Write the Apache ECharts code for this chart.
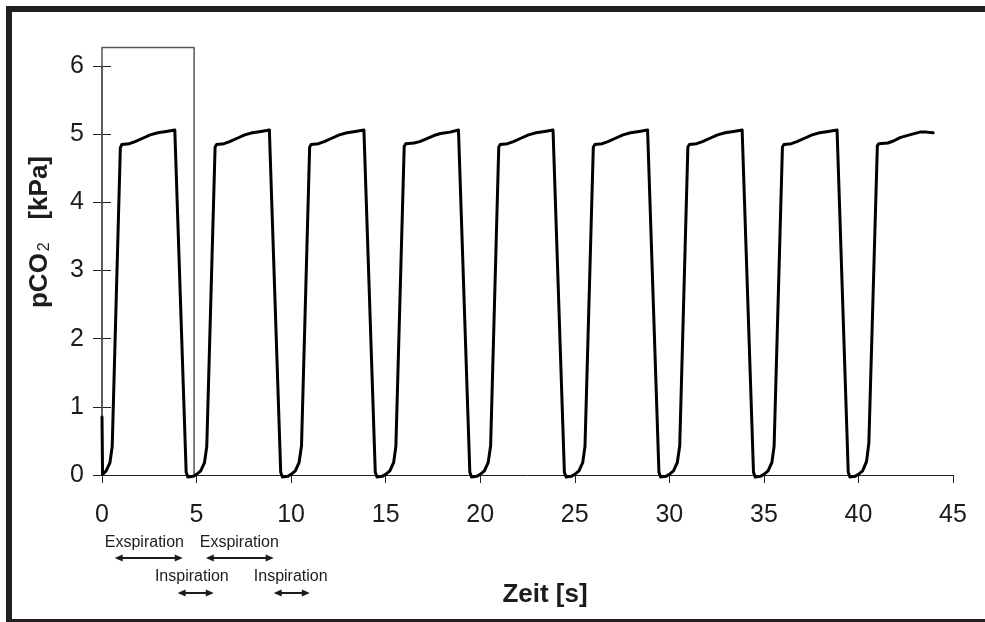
<!DOCTYPE html>
<html>
<head>
<meta charset="utf-8">
<script src="https://cdn.jsdelivr.net/npm/echarts@6/dist/echarts.min.js"></script>
<style>
  html, body { margin: 0; padding: 0; background: #fff; }
  #chart { width: 985px; height: 622px; }
</style>
</head>
<body>
<div id="chart"></div>
<script>
// Kapnogramm: CO2-Partialdruck über die Zeit, neun Atemzüge
const xTicks = [0, 5, 10, 15, 20, 25, 30, 35, 40, 45];
const yTicks = [0, 1, 2, 3, 4, 5, 6];

// Zeitpunkte [s], je Zeile ein Atemzug
const zeit = [
  0.00, 0.03, 0.22, 0.42, 0.54, 0.97, 1.05, 1.45, 1.75, 2.15, 2.55, 2.95, 3.40, 3.85, 3.95, 4.45, 4.54, 4.64, 4.82,
  5.00, 5.22, 5.42, 5.54, 5.98, 6.06, 6.45, 6.75, 7.15, 7.55, 7.95, 8.40, 8.85, 8.94, 9.45, 9.54, 9.64, 9.82,
  10.00, 10.22, 10.42, 10.55, 10.98, 11.06, 11.45, 11.75, 12.15, 12.55, 12.95, 13.40, 13.85, 13.95, 14.45, 14.54, 14.64, 14.82,
  15.00, 15.22, 15.42, 15.54, 15.98, 16.06, 16.50, 16.80, 17.15, 17.55, 17.90, 18.40, 18.85, 18.94, 19.45, 19.54, 19.64, 19.82,
  20.00, 20.22, 20.42, 20.55, 20.98, 21.06, 21.45, 21.75, 22.15, 22.55, 22.95, 23.40, 23.85, 23.95, 24.45, 24.54, 24.64, 24.82,
  25.00, 25.22, 25.42, 25.54, 25.98, 26.06, 26.45, 26.75, 27.15, 27.55, 27.95, 28.40, 28.85, 28.94, 29.45, 29.54, 29.64, 29.82,
  30.00, 30.22, 30.42, 30.55, 30.98, 31.06, 31.45, 31.75, 32.15, 32.55, 32.95, 33.40, 33.85, 33.95, 34.45, 34.54, 34.64, 34.82,
  35.00, 35.22, 35.42, 35.54, 35.98, 36.06, 36.45, 36.75, 37.15, 37.55, 37.95, 38.40, 38.87, 38.96, 39.46, 39.55, 39.64, 39.82,
  40.00, 40.22, 40.43, 40.55, 41.00, 41.08, 41.55, 41.85, 42.20, 42.70, 43.25, 43.60, 43.95
];
// CO2-Partialdruck [kPa]
const pco2 = [
  0.85, 0.01, 0.06, 0.18, 0.42, 4.80, 4.85, 4.86, 4.89, 4.94, 4.99, 5.02, 5.04, 5.06, 5.05, 0.04, -0.03, -0.04, -0.02,
  0.01, 0.06, 0.18, 0.42, 4.81, 4.85, 4.86, 4.89, 4.94, 4.99, 5.02, 5.04, 5.06, 5.05, 0.04, -0.03, -0.04, -0.02,
  0.01, 0.06, 0.18, 0.43, 4.81, 4.85, 4.86, 4.89, 4.94, 4.99, 5.02, 5.04, 5.06, 5.05, 0.04, -0.03, -0.04, -0.02,
  0.01, 0.06, 0.18, 0.42, 4.82, 4.86, 4.87, 4.89, 4.93, 4.98, 5.01, 5.03, 5.06, 5.05, 0.04, -0.03, -0.04, -0.02,
  0.01, 0.06, 0.18, 0.43, 4.81, 4.85, 4.86, 4.89, 4.94, 4.99, 5.02, 5.04, 5.06, 5.05, 0.04, -0.03, -0.04, -0.02,
  0.01, 0.06, 0.18, 0.42, 4.81, 4.85, 4.86, 4.89, 4.94, 4.99, 5.02, 5.04, 5.06, 5.05, 0.04, -0.03, -0.04, -0.02,
  0.01, 0.06, 0.18, 0.43, 4.81, 4.85, 4.86, 4.89, 4.94, 4.99, 5.02, 5.04, 5.06, 5.05, 0.04, -0.03, -0.04, -0.02,
  0.01, 0.06, 0.18, 0.42, 4.81, 4.85, 4.86, 4.89, 4.94, 4.99, 5.02, 5.04, 5.06, 5.05, 0.04, -0.03, -0.04, -0.02,
  0.01, 0.06, 0.20, 0.47, 4.83, 4.86, 4.87, 4.90, 4.95, 4.99, 5.03, 5.03, 5.02
];

// Rahmen um den ersten Atemzyklus
const boxZeit = [0, 0, 4.87, 4.87];
const boxKPa = [0, 6.27, 6.27, 0];

// Phasenpfeile unter der Zeitachse (Start, Ende in s) und Lage der Beschriftung
const exspPfeile = [[0.67, 4.27], [5.49, 9.08]];
const inspPfeile = [[4.00, 5.91], [9.08, 10.99]];
const exspTextZeit = [2.24, 7.26];
const inspTextZeit = [4.75, 9.98];
const exspText = 'Exspiration';
const inspText = 'Inspiration';

const FONT = '"Liberation Sans", Arial, sans-serif';
const INK = '#1c1c1c';

const chart = echarts.init(document.getElementById('chart'), null, { renderer: 'canvas' });

const kurve = zeit.map((t, i) => [t, pco2[i]]);
const box = boxZeit.map((t, i) => [t, boxKPa[i]]);

const xBase = { type: 'value', min: 0, max: 45, interval: 5, splitLine: { show: false } };
const yBase = { type: 'value', min: 0, max: 6, interval: 1, splitLine: { show: false } };

chart.setOption({
  animation: false,
  backgroundColor: '#fff',
  grid: { left: 102, right: 32, top: 66, bottom: 147, containLabel: false },
  xAxis: [
    Object.assign({}, xBase, {
      axisLine: { lineStyle: { color: '#222', width: 1 } },
      axisTick: { length: 8, lineStyle: { color: '#222', width: 1 } },
      axisLabel: { color: INK, fontSize: 25, fontFamily: FONT, margin: 28 }
    }),
    Object.assign({}, xBase, {
      axisLine: { show: false },
      axisTick: { inside: true, length: 6, lineStyle: { color: '#222', width: 1 } },
      axisLabel: { show: false }
    })
  ],
  yAxis: [
    Object.assign({}, yBase, {
      axisLine: { lineStyle: { color: '#777', width: 2 } },
      axisTick: { length: 9, lineStyle: { color: '#222', width: 1 } },
      axisLabel: { color: INK, fontSize: 25, fontFamily: FONT, margin: 18 }
    }),
    Object.assign({}, yBase, {
      position: 'left',
      axisLine: { show: false },
      axisTick: { inside: true, length: 9, lineStyle: { color: '#222', width: 1 } },
      axisLabel: { show: false }
    })
  ],
  series: [
    {
      type: 'line',
      data: box,
      clip: false,
      symbol: 'none',
      lineStyle: { color: '#555', width: 1.5 },
      z: 1
    },
    {
      type: 'line',
      data: kurve,
      clip: false,
      symbol: 'none',
      lineStyle: { color: '#000', width: 3, join: 'round', cap: 'round' },
      z: 3
    }
  ]
});

// Rahmen, Achsentitel und Phasenpfeile
function px(t) {
  return chart.convertToPixel({ xAxisIndex: 0 }, t);
}
function pfeil(t0, t1, y) {
  const x0 = px(t0);
  const x1 = px(t1);
  const h = 8, w = 3.5;
  return [
    { type: 'line', shape: { x1: x0 + 4, y1: y, x2: x1 - 4, y2: y }, style: { stroke: INK, lineWidth: 2 } },
    { type: 'polygon', shape: { points: [[x0, y], [x0 + h, y - w], [x0 + h, y + w]] }, style: { fill: INK } },
    { type: 'polygon', shape: { points: [[x1, y], [x1 - h, y - w], [x1 - h, y + w]] }, style: { fill: INK } }
  ];
}
function beschriftung(text, t, y) {
  return { type: 'text', x: px(t), y: y, style: { text: text, fontSize: 16, fontFamily: FONT, fill: INK, align: 'center', verticalAlign: 'middle' } };
}

const graphics = [
  { type: 'rect', shape: { x: 6, y: 6, width: 6, height: 616 }, style: { fill: '#231f20' } },
  { type: 'rect', shape: { x: 6, y: 6, width: 979, height: 6 }, style: { fill: '#231f20' } },
  { type: 'rect', shape: { x: 12, y: 619, width: 973, height: 3 }, style: { fill: '#231f20' } },
  {
    type: 'text', x: 38, y: 232, rotation: Math.PI / 2,
    style: {
      text: '{a|pCO}{s|2}{a|   [kPa]}',
      align: 'center', verticalAlign: 'middle',
      rich: {
        a: { fontSize: 26, fontWeight: 'bold', fontFamily: FONT, fill: INK, lineHeight: 30, verticalAlign: 'bottom' },
        s: { fontSize: 16, fontFamily: FONT, fill: INK, lineHeight: 30, verticalAlign: 'bottom', padding: [0, 1, 0, 2] }
      }
    }
  },
  {
    type: 'text', x: 545, y: 595,
    style: { text: 'Zeit [s]', fontSize: 26, fontWeight: 'bold', fontFamily: FONT, fill: INK, align: 'center', verticalAlign: 'middle' }
  }
];
exspPfeile.forEach((p, i) => {
  graphics.push(beschriftung(exspText, exspTextZeit[i], 543));
  graphics.push(...pfeil(p[0], p[1], 558));
});
inspPfeile.forEach((p, i) => {
  graphics.push(beschriftung(inspText, inspTextZeit[i], 577));
  graphics.push(...pfeil(p[0], p[1], 593));
});
chart.setOption({ graphic: graphics });
</script>
</body>
</html>
